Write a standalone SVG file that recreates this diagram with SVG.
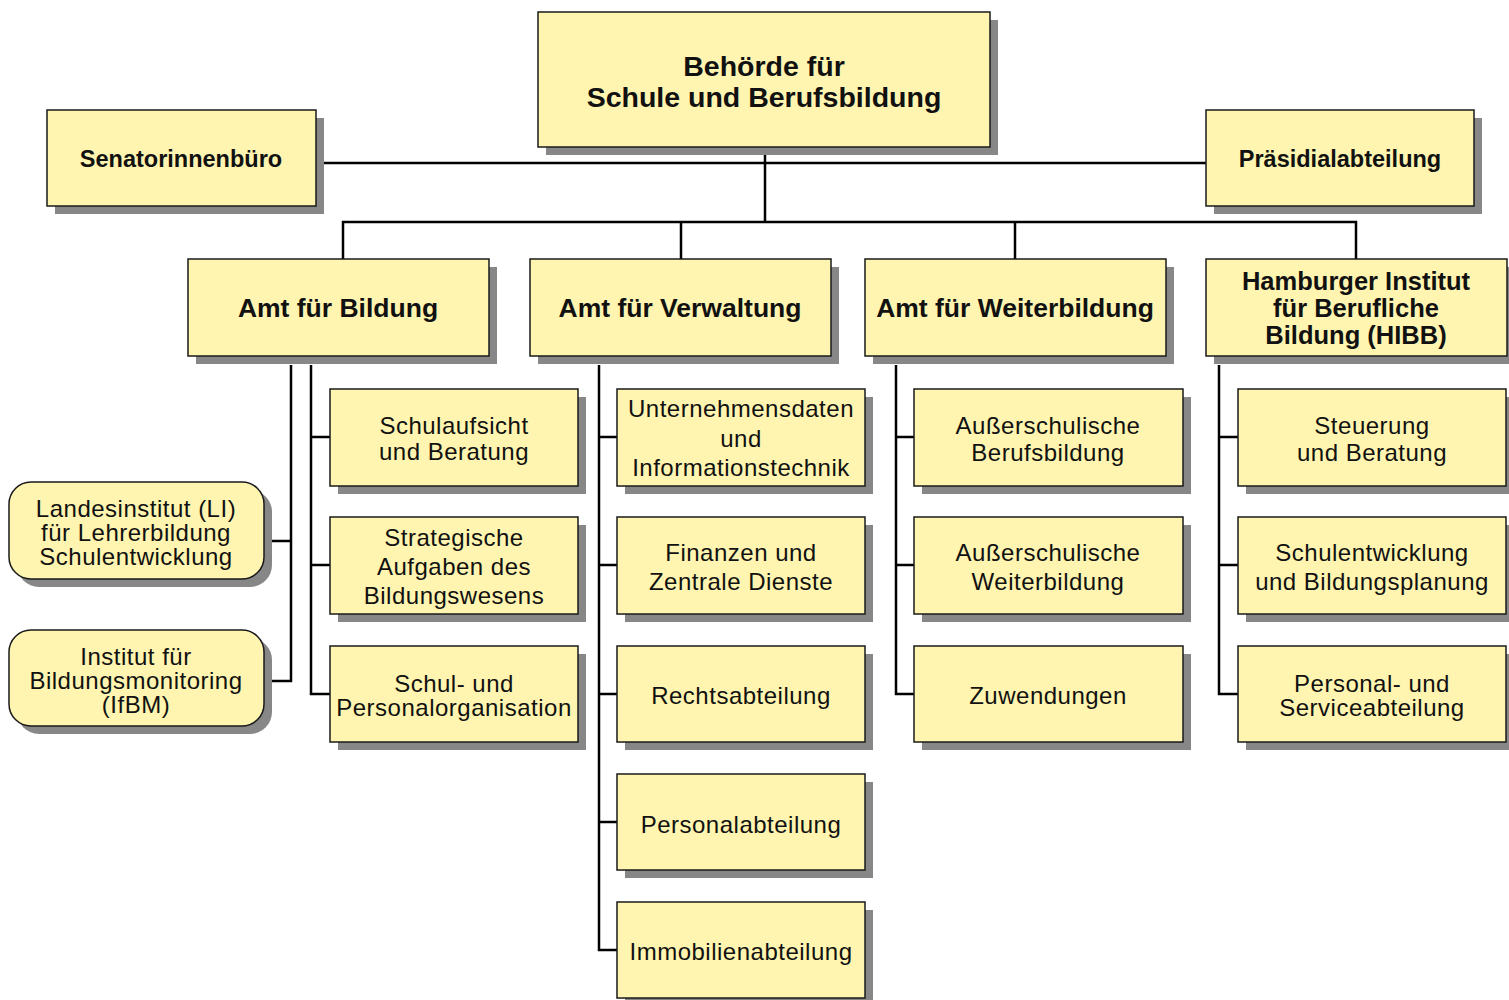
<svg xmlns="http://www.w3.org/2000/svg" width="1509" height="1000" viewBox="0 0 1509 1000">
<style>
.sh{fill:#878787;stroke:none}
.bx{fill:#fff5b0;stroke:#1a1a1a;stroke-width:1.5}
.c{fill:none;stroke:#000;stroke-width:2.5}
text{font-family:"Liberation Sans",Arial,sans-serif;fill:#111;text-anchor:middle;dominant-baseline:central}
.b{font-weight:bold}
.t28{font-size:28.5px}
.t26{font-size:26.5px}
.t25{font-size:25.5px}
.t24b{font-size:23.5px}
.r{font-size:24px;letter-spacing:0.5px}
</style>
<rect width="1509" height="1000" fill="#fff"/>
<g id="connectors">
<path class="c" d="M765 148V222M324 163H1206M343 259V222H1356V259M681 222V259M1015 222V259"/>
<path class="c" d="M291 365V681H272M272 541H291M311 365V694H330M311 437H330M311 565H330"/>
<path class="c" d="M599 365V950H617M599 437H617M599 565H617M599 694H617M599 822H617"/>
<path class="c" d="M896 365V694H914M896 437H914M896 565H914"/>
<path class="c" d="M1219 365V694H1238M1219 437H1238M1219 565H1238"/>
</g>
<g id="n-top"><rect class="sh" x="546" y="20" width="452" height="135"/><rect class="bx" x="538" y="12" width="452" height="135"/><text class="b t28" x="764" y="66">Behörde für</text><text class="b t28" x="764" y="97">Schule und Berufsbildung</text></g>
<g id="n-senat"><rect class="sh" x="55" y="118" width="269" height="96"/><rect class="bx" x="47" y="110" width="269" height="96"/><text class="b t24b" x="181" y="159">Senatorinnenbüro</text></g>
<g id="n-praes"><rect class="sh" x="1214" y="118" width="268" height="96"/><rect class="bx" x="1206" y="110" width="268" height="96"/><text class="b t24b" x="1340" y="159">Präsidialabteilung</text></g>
<g id="n-amt-bildung"><rect class="sh" x="196" y="267" width="301" height="97"/><rect class="bx" x="188" y="259" width="301" height="97"/><text class="b t26" x="338" y="308">Amt für Bildung</text></g>
<g id="n-amt-verwaltung"><rect class="sh" x="538" y="267" width="301" height="97"/><rect class="bx" x="530" y="259" width="301" height="97"/><text class="b t26" x="680" y="308">Amt für Verwaltung</text></g>
<g id="n-amt-weiter"><rect class="sh" x="873" y="267" width="301" height="97"/><rect class="bx" x="865" y="259" width="301" height="97"/><text class="b t26" x="1015" y="308">Amt für Weiterbildung</text></g>
<g id="n-hibb"><rect class="sh" x="1214" y="267" width="301" height="97"/><rect class="bx" x="1206" y="259" width="301" height="97"/><text class="b t25" x="1356" y="281">Hamburger Institut</text><text class="b t25" x="1356" y="308">für Berufliche</text><text class="b t25" x="1356" y="335">Bildung (HIBB)</text></g>
<g id="n-li"><rect class="sh" x="17" y="490" width="255" height="97" rx="22"/><rect class="bx" x="9" y="482" width="255" height="97" rx="22"/><text class="r" x="136" y="508">Landesinstitut (LI)</text><text class="r" x="136" y="532">für Lehrerbildung</text><text class="r" x="136" y="556">Schulentwicklung</text></g>
<g id="n-ifbm"><rect class="sh" x="17" y="638" width="255" height="96" rx="22"/><rect class="bx" x="9" y="630" width="255" height="96" rx="22"/><text class="r" x="136" y="656">Institut für</text><text class="r" x="136" y="680">Bildungsmonitoring</text><text class="r" x="136" y="704">(IfBM)</text></g>
<g id="n-schulaufsicht"><rect class="sh" x="338" y="397" width="248" height="97"/><rect class="bx" x="330" y="389" width="248" height="97"/><text class="r" x="454" y="425">Schulaufsicht</text><text class="r" x="454" y="451">und Beratung</text></g>
<g id="n-strategische"><rect class="sh" x="338" y="525" width="248" height="97"/><rect class="bx" x="330" y="517" width="248" height="97"/><text class="r" x="454" y="537">Strategische</text><text class="r" x="454" y="566">Aufgaben des</text><text class="r" x="454" y="595">Bildungswesens</text></g>
<g id="n-schulpers"><rect class="sh" x="338" y="654" width="248" height="96"/><rect class="bx" x="330" y="646" width="248" height="96"/><text class="r" x="454" y="683">Schul- und</text><text class="r" x="454" y="707">Personalorganisation</text></g>
<g id="n-unternehmen"><rect class="sh" x="625" y="397" width="248" height="97"/><rect class="bx" x="617" y="389" width="248" height="97"/><text class="r" x="741" y="408">Unternehmensdaten</text><text class="r" x="741" y="438">und</text><text class="r" x="741" y="467">Informationstechnik</text></g>
<g id="n-finanzen"><rect class="sh" x="625" y="525" width="248" height="97"/><rect class="bx" x="617" y="517" width="248" height="97"/><text class="r" x="741" y="552">Finanzen und</text><text class="r" x="741" y="581">Zentrale Dienste</text></g>
<g id="n-recht"><rect class="sh" x="625" y="654" width="248" height="96"/><rect class="bx" x="617" y="646" width="248" height="96"/><text class="r" x="741" y="695">Rechtsabteilung</text></g>
<g id="n-personal"><rect class="sh" x="625" y="782" width="248" height="96"/><rect class="bx" x="617" y="774" width="248" height="96"/><text class="r" x="741" y="824">Personalabteilung</text></g>
<g id="n-immo"><rect class="sh" x="625" y="910" width="248" height="96"/><rect class="bx" x="617" y="902" width="248" height="96"/><text class="r" x="741" y="951">Immobilienabteilung</text></g>
<g id="n-aberuf"><rect class="sh" x="922" y="397" width="269" height="97"/><rect class="bx" x="914" y="389" width="269" height="97"/><text class="r" x="1048" y="425">Außerschulische</text><text class="r" x="1048" y="452">Berufsbildung</text></g>
<g id="n-aweiter"><rect class="sh" x="922" y="525" width="269" height="97"/><rect class="bx" x="914" y="517" width="269" height="97"/><text class="r" x="1048" y="552">Außerschulische</text><text class="r" x="1048" y="581">Weiterbildung</text></g>
<g id="n-zuwend"><rect class="sh" x="922" y="654" width="269" height="96"/><rect class="bx" x="914" y="646" width="269" height="96"/><text class="r" x="1048" y="695">Zuwendungen</text></g>
<g id="n-steuerung"><rect class="sh" x="1246" y="397" width="268" height="97"/><rect class="bx" x="1238" y="389" width="268" height="97"/><text class="r" x="1372" y="425">Steuerung</text><text class="r" x="1372" y="452">und Beratung</text></g>
<g id="n-schulentw"><rect class="sh" x="1246" y="525" width="268" height="97"/><rect class="bx" x="1238" y="517" width="268" height="97"/><text class="r" x="1372" y="552">Schulentwicklung</text><text class="r" x="1372" y="581">und Bildungsplanung</text></g>
<g id="n-servic"><rect class="sh" x="1246" y="654" width="268" height="96"/><rect class="bx" x="1238" y="646" width="268" height="96"/><text class="r" x="1372" y="683">Personal- und</text><text class="r" x="1372" y="707">Serviceabteilung</text></g>
</svg>
